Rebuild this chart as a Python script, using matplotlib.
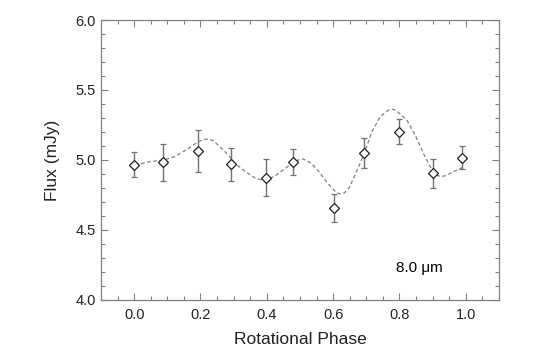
#!/usr/bin/env python3

import numpy as np
import matplotlib.pyplot as plt
from matplotlib.ticker import MultipleLocator

plt.rcParams['font.family'] = ['Liberation Sans', 'DejaVu Sans']

# Measured fluxes at 8.0 um.
phase = [0.0, 0.086, 0.194, 0.291, 0.397, 0.478, 0.603, 0.692, 0.800, 0.900, 0.990]
flux = [4.965, 4.982, 5.062, 4.969, 4.874, 4.986, 4.660, 5.048, 5.202, 4.905, 5.017]
flux_err = [0.090, 0.135, 0.150, 0.120, 0.130, 0.095, 0.100, 0.107, 0.090, 0.105, 0.080]

# Dashed model curve.
model_phase = [0.002, 0.047, 0.086, 0.123, 0.164, 0.194, 0.210, 0.223, 0.238, 0.253,
               0.284, 0.304, 0.329, 0.349, 0.367, 0.385, 0.405, 0.425, 0.450, 0.478,
               0.495, 0.510, 0.535, 0.556, 0.580, 0.596, 0.610, 0.621, 0.634, 0.648,
               0.666, 0.692, 0.717, 0.742, 0.767, 0.780, 0.792, 0.822, 0.847, 0.872,
               0.898, 0.912, 0.923, 0.938, 0.953, 0.988]
model_flux = [4.964, 4.988, 4.998, 5.024, 5.083, 5.131, 5.146, 5.150, 5.138, 5.107,
              5.036, 4.976, 4.929, 4.895, 4.868, 4.858, 4.864, 4.886, 4.930, 4.980,
              5.000, 5.007, 4.975, 4.920, 4.845, 4.800, 4.768, 4.757, 4.765, 4.800,
              4.893, 5.036, 5.202, 5.310, 5.357, 5.362, 5.350, 5.286, 5.179, 5.048,
              4.929, 4.893, 4.881, 4.887, 4.905, 4.945]

fig = plt.figure(figsize=(5.4, 3.64), dpi=100)
ax = fig.add_axes([0.187, 0.176, 0.737, 0.769])

ax.plot(model_phase, model_flux, ls=(0, (3, 2)), color='#808080', lw=0.9)
ax.errorbar(phase, flux, yerr=flux_err, fmt='none', ecolor='#707070', elinewidth=1.0,
            capsize=2.5, capthick=0.9)
ax.plot(phase, flux, 'D', ms=4.8, mfc='white', mec='#202020', mew=0.9)

ax.text(0.86, 4.23, '8.0 \u03bcm', fontsize=11, ha='center', va='center')

ax.set_xlim(-0.1, 1.1)
ax.set_ylim(4.0, 6.0)
ax.xaxis.set_major_locator(MultipleLocator(0.2))
ax.xaxis.set_minor_locator(MultipleLocator(0.05))
ax.yaxis.set_major_locator(MultipleLocator(0.5))
ax.yaxis.set_minor_locator(MultipleLocator(0.1))
ax.set_xticks([0.0, 0.2, 0.4, 0.6, 0.8, 1.0])
ax.set_xticklabels(['0.0', '0.2', '0.4', '0.6', '0.8', '1.0'])
ax.tick_params(which='both', direction='in', top=True, right=True, color='#808080',
               labelsize=10.5, labelcolor='#222222')
ax.tick_params(axis='x', which='both', pad=6)
ax.tick_params(which='major', length=5, width=0.8)
ax.tick_params(which='minor', length=3, width=0.8)
for s in ax.spines.values():
    s.set_color('#808080')
    s.set_linewidth(0.9)

ax.set_xlabel('Rotational Phase', fontsize=12.5, labelpad=7, color='#222222')
ax.set_ylabel('Flux (mJy)', fontsize=12.5, labelpad=11, color='#222222')

fig.savefig('out.png', dpi=100)
